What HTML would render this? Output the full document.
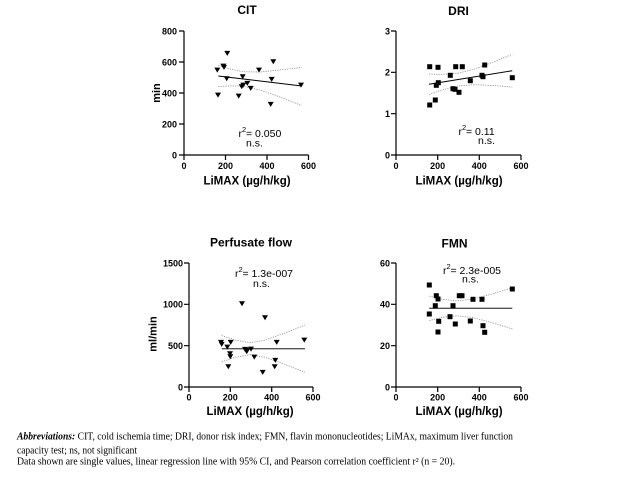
<!DOCTYPE html>
<html><head><meta charset="utf-8"><style>
html,body{margin:0;padding:0;background:#fff;}
svg{display:block;}
.t{font-family:"Liberation Sans",Arial,sans-serif;}
.tick{font-family:"Liberation Sans",Arial,sans-serif;font-weight:bold;font-size:9px;}
.ttl{font-family:"Liberation Sans",Arial,sans-serif;font-weight:bold;font-size:12px;}
.xl{font-family:"Liberation Sans",Arial,sans-serif;font-weight:bold;font-size:11.5px;}
.yl{font-family:"Liberation Sans",Arial,sans-serif;font-weight:bold;font-size:11px;}
.st{font-family:"Liberation Sans",Arial,sans-serif;font-size:10.5px;}
.sup{font-family:"Liberation Sans",Arial,sans-serif;font-size:7.5px;}
.fn{font-family:"Liberation Serif","Times New Roman",serif;font-size:10px;}
.ax{stroke:#000;stroke-width:1.2;fill:none;}
.ci{stroke:#8a8a8a;stroke-width:0.8;fill:none;stroke-dasharray:1.2 1.2;}
</style></head><body>
<svg width="637" height="495" viewBox="0 0 637 495" xmlns="http://www.w3.org/2000/svg">
<rect width="637" height="495" fill="#fff"/>

<!-- ============ CIT ============ -->
<text class="ttl" x="247" y="14" text-anchor="middle">CIT</text>
<path class="ax" d="M184,31V155H308.5 M179,31H184 M179,62H184 M179,93H184 M179,124H184 M179,155H184 M184,155V160 M225.5,155V160 M267,155V160 M308.5,155V160"/>
<g class="tick" text-anchor="end">
<text x="177" y="34.3">800</text><text x="177" y="65.3">600</text><text x="177" y="96.3">400</text><text x="177" y="127.3">200</text><text x="177" y="158.3">0</text>
</g>
<g class="tick" text-anchor="middle">
<text x="184" y="169">0</text><text x="225.5" y="169">200</text><text x="267" y="169">400</text><text x="308.5" y="169">600</text>
</g>
<text class="xl" x="247" y="184.5" text-anchor="middle">LiMAX (µg/h/kg)</text>
<text class="yl" transform="translate(160,93) rotate(-90)" text-anchor="middle">min</text>
<polyline class="ci" points="218.3,65.3 230,69.0 243.3,71.7 260,72.0 280,69.9 301.7,67.5"/>
<polyline class="ci" points="218.3,86.7 230,85.8 243.3,86.3 260,90.0 280,96.9 301.7,105.5"/>
<line x1="218.3" y1="76" x2="301.7" y2="86" stroke="#000" stroke-width="1"/>
<g fill="#000">
<path d="M-3,-2.4H3L0,2.6Z" transform="translate(217.3,70)"/>
<path d="M-3,-2.4H3L0,2.6Z" transform="translate(227.3,53.3)"/>
<path d="M-3,-2.4H3L0,2.6Z" transform="translate(224,67.3)"/>
<path d="M-3,-2.4H3L0,2.6Z" transform="translate(223.3,66)"/>
<path d="M-3,-2.4H3L0,2.6Z" transform="translate(226.7,78.7)"/>
<path d="M-3,-2.4H3L0,2.6Z" transform="translate(218,95)"/>
<path d="M-3,-2.4H3L0,2.6Z" transform="translate(242.7,76.7)"/>
<path d="M-3,-2.4H3L0,2.6Z" transform="translate(238.7,96)"/>
<path d="M-3,-2.4H3L0,2.6Z" transform="translate(241.7,86.7)"/>
<path d="M-3,-2.4H3L0,2.6Z" transform="translate(243.3,85)"/>
<path d="M-3,-2.4H3L0,2.6Z" transform="translate(247.3,83.3)"/>
<path d="M-3,-2.4H3L0,2.6Z" transform="translate(250.7,88.3)"/>
<path d="M-3,-2.4H3L0,2.6Z" transform="translate(259,70)"/>
<path d="M-3,-2.4H3L0,2.6Z" transform="translate(273.3,61.7)"/>
<path d="M-3,-2.4H3L0,2.6Z" transform="translate(271.7,79.3)"/>
<path d="M-3,-2.4H3L0,2.6Z" transform="translate(270.7,104.3)"/>
<path d="M-3,-2.4H3L0,2.6Z" transform="translate(301,85)"/>
</g>
<text class="st" x="238.5" y="137">r</text><text class="sup" x="242" y="132">2</text><text class="st" x="246" y="137">= 0.050</text>
<text class="st" x="246" y="146.5">n.s.</text>

<!-- ============ DRI ============ -->
<text class="ttl" x="458.5" y="15" text-anchor="middle">DRI</text>
<path class="ax" d="M396,31V155H521 M391,31H396 M391,72.3H396 M391,113.7H396 M391,155H396 M396,155V160 M437.7,155V160 M479.3,155V160 M521,155V160"/>
<g class="tick" text-anchor="end">
<text x="390" y="34.3">3</text><text x="390" y="75.6">2</text><text x="390" y="117">1</text><text x="390" y="158.3">0</text>
</g>
<g class="tick" text-anchor="middle">
<text x="396" y="169">0</text><text x="437.7" y="169">200</text><text x="479.3" y="169">400</text><text x="521" y="169">600</text>
</g>
<text class="xl" x="459" y="184.5" text-anchor="middle">LiMAX (µg/h/kg)</text>
<polyline class="ci" points="429,74.0 440,74.4 458,73.3 475,68.9 495,61.4 512.3,54.3"/>
<polyline class="ci" points="429,94.6 440,90.6 458,85.9 475,84.7 495,85.6 512.3,87.1"/>
<line x1="429" y1="84.3" x2="512.3" y2="70.7" stroke="#000" stroke-width="1"/>
<g fill="#000">
<rect x="427.2" y="64.2" width="5" height="5"/>
<rect x="435.5" y="64.8" width="5" height="5"/>
<rect x="427.2" y="102.5" width="5" height="5"/>
<rect x="432.8" y="97.5" width="5" height="5"/>
<rect x="433.8" y="82.8" width="5" height="5"/>
<rect x="435.8" y="80.2" width="5" height="5"/>
<rect x="447.8" y="72.8" width="5" height="5"/>
<rect x="453.2" y="64.2" width="5" height="5"/>
<rect x="459.8" y="64.2" width="5" height="5"/>
<rect x="450.5" y="86.2" width="5" height="5"/>
<rect x="452.5" y="86.8" width="5" height="5"/>
<rect x="456.5" y="89.8" width="5" height="5"/>
<rect x="467.8" y="78.2" width="5" height="5"/>
<rect x="479.5" y="72.8" width="5" height="5"/>
<rect x="480.5" y="74.2" width="5" height="5"/>
<rect x="482.2" y="62.5" width="5" height="5"/>
<rect x="509.8" y="75.2" width="5" height="5"/>
</g>
<text class="st" x="458.5" y="135">r</text><text class="sup" x="462" y="130">2</text><text class="st" x="466" y="135">= 0.11</text>
<text class="st" x="478" y="144">n.s.</text>

<!-- ============ Perfusate flow ============ -->
<text class="ttl" x="251" y="246.5" text-anchor="middle">Perfusate flow</text>
<path class="ax" d="M189,263V387H313 M184,263H189 M184,304.3H189 M184,345.7H189 M184,387H189 M189,387V392 M230.3,387V392 M271.7,387V392 M313,387V392"/>
<g class="tick" text-anchor="end">
<text x="183" y="266.3">1500</text><text x="183" y="307.6">1000</text><text x="183" y="349">500</text><text x="183" y="390.3">0</text>
</g>
<g class="tick" text-anchor="middle">
<text x="189" y="400.5">0</text><text x="230.3" y="400.5">200</text><text x="271.7" y="400.5">400</text><text x="313" y="400.5">600</text>
</g>
<text class="xl" x="250" y="415" text-anchor="middle">LiMAX (µg/h/kg)</text>
<text class="yl" transform="translate(156.5,334) rotate(-90)" text-anchor="middle">ml/min</text>
<polyline class="ci" points="221.7,335.5 235,340.1 250,342.7 265,340.1 285,333 305,325.1"/>
<polyline class="ci" points="221.7,361.9 235,357.3 250,354.7 265,357.3 285,364.4 305,372.3"/>
<line x1="221.7" y1="348.7" x2="305" y2="348.7" stroke="#555" stroke-width="1.3"/>
<g fill="#000">
<path d="M-3,-2.4H3L0,2.6Z" transform="translate(221,342.3)"/>
<path d="M-3,-2.4H3L0,2.6Z" transform="translate(221.7,344.3)"/>
<path d="M-3,-2.4H3L0,2.6Z" transform="translate(227.3,347)"/>
<path d="M-3,-2.4H3L0,2.6Z" transform="translate(230.7,342.3)"/>
<path d="M-3,-2.4H3L0,2.6Z" transform="translate(230,353.7)"/>
<path d="M-3,-2.4H3L0,2.6Z" transform="translate(230.3,356.7)"/>
<path d="M-3,-2.4H3L0,2.6Z" transform="translate(228.3,366.7)"/>
<path d="M-3,-2.4H3L0,2.6Z" transform="translate(242,303.7)"/>
<path d="M-3,-2.4H3L0,2.6Z" transform="translate(245,349.3)"/>
<path d="M-3,-2.4H3L0,2.6Z" transform="translate(246.7,351.7)"/>
<path d="M-3,-2.4H3L0,2.6Z" transform="translate(247.3,350)"/>
<path d="M-3,-2.4H3L0,2.6Z" transform="translate(251,349)"/>
<path d="M-3,-2.4H3L0,2.6Z" transform="translate(254.3,357)"/>
<path d="M-3,-2.4H3L0,2.6Z" transform="translate(265,317.7)"/>
<path d="M-3,-2.4H3L0,2.6Z" transform="translate(262.7,372.3)"/>
<path d="M-3,-2.4H3L0,2.6Z" transform="translate(276.7,342.3)"/>
<path d="M-3,-2.4H3L0,2.6Z" transform="translate(275.3,360.3)"/>
<path d="M-3,-2.4H3L0,2.6Z" transform="translate(274.7,366.7)"/>
<path d="M-3,-2.4H3L0,2.6Z" transform="translate(304.3,340)"/>
</g>
<text class="st" x="235" y="277">r</text><text class="sup" x="238.5" y="272">2</text><text class="st" x="242.5" y="277">= 1.3e-007</text>
<text class="st" x="253" y="287">n.s.</text>

<!-- ============ FMN ============ -->
<text class="ttl" x="454.5" y="247.3" text-anchor="middle">FMN</text>
<path class="ax" d="M396,263V387H521 M391,263H396 M391,304.3H396 M391,345.7H396 M391,387H396 M396,387V392 M437.7,387V392 M479.3,387V392 M521,387V392"/>
<g class="tick" text-anchor="end">
<text x="390" y="266.3">60</text><text x="390" y="307.6">40</text><text x="390" y="349">20</text><text x="390" y="390.3">0</text>
</g>
<g class="tick" text-anchor="middle">
<text x="396" y="400.5">0</text><text x="437.7" y="400.5">200</text><text x="479.3" y="400.5">400</text><text x="521" y="400.5">600</text>
</g>
<text class="xl" x="459" y="415" text-anchor="middle">LiMAX (µg/h/kg)</text>
<polyline class="ci" points="429.3,296.1 443,299.4 457,300.8 472,299.2 492,294 512.3,287.7"/>
<polyline class="ci" points="429.3,320.5 443,317.2 457,315.8 472,317.4 492,322.6 512.3,328.9"/>
<line x1="429.3" y1="308.3" x2="512.3" y2="308.3" stroke="#555" stroke-width="1.3"/>
<g fill="#000">
<rect x="426.8" y="282.5" width="5" height="5"/>
<rect x="426.8" y="311.5" width="5" height="5"/>
<rect x="432.8" y="303.2" width="5" height="5"/>
<rect x="433.8" y="293.2" width="5" height="5"/>
<rect x="435.5" y="296.5" width="5" height="5"/>
<rect x="436.2" y="318.8" width="5" height="5"/>
<rect x="435.5" y="329.5" width="5" height="5"/>
<rect x="447.5" y="314.2" width="5" height="5"/>
<rect x="450.5" y="303.2" width="5" height="5"/>
<rect x="452.8" y="321.5" width="5" height="5"/>
<rect x="456.8" y="293.2" width="5" height="5"/>
<rect x="459.5" y="293.2" width="5" height="5"/>
<rect x="467.8" y="318.5" width="5" height="5"/>
<rect x="470.5" y="296.8" width="5" height="5"/>
<rect x="479.5" y="296.8" width="5" height="5"/>
<rect x="480.5" y="323.2" width="5" height="5"/>
<rect x="482.2" y="329.8" width="5" height="5"/>
<rect x="509.8" y="286.5" width="5" height="5"/>
</g>
<text class="st" x="443" y="274">r</text><text class="sup" x="446.5" y="269">2</text><text class="st" x="450.5" y="274">= 2.3e-005</text>
<text class="st" x="462" y="282.5">n.s.</text>

<!-- ============ Footnote ============ -->
<text class="fn" x="17" y="439.5" textLength="496" lengthAdjust="spacingAndGlyphs"><tspan font-weight="bold" font-style="italic">Abbreviations:</tspan> CIT, cold ischemia time; DRI, donor risk index; FMN, flavin mononucleotides; LiMAx, maximum liver function</text>
<text class="fn" x="17" y="453.5" textLength="120" lengthAdjust="spacingAndGlyphs">capacity test; ns, not significant</text>
<text class="fn" x="17" y="464.5" textLength="438" lengthAdjust="spacingAndGlyphs">Data shown are single values, linear regression line with 95% CI, and Pearson correlation coefficient r² (n = 20).</text>
</svg>
</body></html>
